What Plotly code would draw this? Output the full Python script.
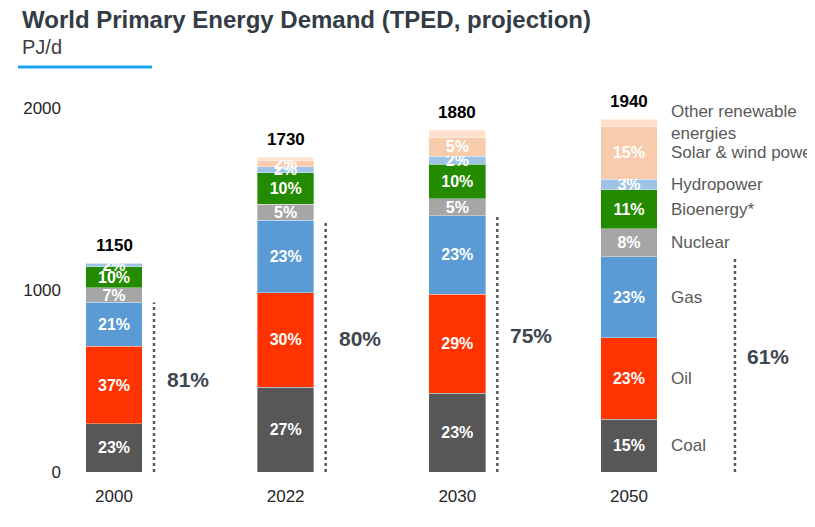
import plotly.graph_objects as go

# ---------------- data (PJ/d) ----------------
years = ["2000", "2022", "2030", "2050"]
series_names = ["Coal", "Oil", "Gas", "Nuclear", "Bioenergy*", "Hydropower",
                "Solar & wind power", "Other renewable energies"]
coal = [265, 467, 432, 291]
oil = [425, 519, 545, 446]
gas = [242, 398, 432, 446]
nuclear = [80, 87, 94, 155]
bioenergy = [115, 173, 188, 213]
hydropower = [20, 35, 45, 58]
solar_wind = [2, 35, 103, 291]
other_renew = [1, 16, 41, 40]
legend_labels = ["Coal", "Oil", "Gas", "Nuclear", "Bioenergy*", "Hydropower",
                 "Solar & wind power", "Other renewable<br>energies"]
y_ticks = [0, 1000, 2000]

series_values = [coal, oil, gas, nuclear, bioenergy, hydropower, solar_wind, other_renew]
colors = ["#575757", "#ff3300", "#5b9bd5", "#a6a6a6", "#248a00", "#9dc3e6",
          "#f8cbad", "#fde1cc"]

totals = [sum(s[i] for s in series_values) for i in range(len(years))]
fossil = [coal[i] + oil[i] + gas[i] for i in range(len(years))]

FONT = "Liberation Sans, Arial, sans-serif"

# plot area geometry (figure pixels; page adds an 8px body margin)
W, H = 807, 519
L, R, T, B = 54, 70, 82, 55
PW, PH = W - L - R, H - T - B


def px(xr):  # reference-x pixel -> paper x
    return (xr - 62) / PW


def py(yr):  # reference-y pixel -> paper y
    return (472 - yr) / PH


fig = go.Figure()
for name, vals, col in zip(series_names, series_values, colors):
    texts = []
    for i, v in enumerate(vals):
        pct = v / totals[i] * 100
        if name != "Other renewable energies" and pct >= 1.5:
            texts.append(f"{round(pct)}%")
        else:
            texts.append("")
    fig.add_trace(go.Bar(
        x=years, y=vals, name=name, marker_color=col,
        marker_line=dict(color="rgba(255,255,255,0.6)", width=0.6),
        text=texts, textposition="inside", insidetextanchor="middle",
        constraintext="none", textangle=0,
        textfont=dict(color="white", size=16, family=FONT, weight="bold"),
        width=0.33, hoverinfo="skip",
    ))

annotations = []
shapes = []
# totals above bars
for i in range(len(years)):
    annotations.append(dict(
        x=i, y=totals[i], text=f"<b>{totals[i]}</b>", showarrow=False,
        yanchor="bottom", yshift=6, font=dict(size=17, color="#000000", family=FONT)))

# fossil share dotted lines + labels
for i in range(len(years)):
    line_off = 106 if i == len(years) - 1 else 40
    lab_off = 139 if i == len(years) - 1 else 74
    shapes.append(dict(
        type="line", xref="x", xsizemode="pixel", xanchor=i, x0=line_off, x1=line_off,
        yref="y", y0=0, y1=fossil[i],
        line=dict(color="#595959", width=2.5, dash="dot")))
    annotations.append(dict(
        x=i, y=fossil[i] / 2, xshift=lab_off, yshift=8, showarrow=False,
        text=f"<b>{round(fossil[i] / totals[i] * 100)}%</b>",
        font=dict(size=21, color="#3d4650", family=FONT)))

# legend labels beside last bar
last = len(years) - 1
cum = 0
for lab, vals in zip(legend_labels, series_values):
    center = cum + vals[last] / 2
    cum += vals[last]
    annotations.append(dict(
        x=last, y=center, xshift=40, xanchor="left", yanchor="middle", showarrow=False,
        text=lab, align="left", font=dict(size=17, color="#595959", family=FONT)))

# title, subtitle, underline
annotations.append(dict(
    xref="paper", yref="paper", x=px(20), y=py(20),
    xanchor="left", yanchor="middle", showarrow=False,
    text="<b>World Primary Energy Demand (TPED, projection)</b>",
    font=dict(size=24, color="#333c44", family=FONT)))
annotations.append(dict(
    xref="paper", yref="paper", x=px(20), y=py(47),
    xanchor="left", yanchor="middle", showarrow=False,
    text="PJ/d", font=dict(size=20, color="#404040", family=FONT)))
shapes.append(dict(
    type="line", xref="paper", yref="paper",
    x0=px(18), x1=px(152), y0=py(67), y1=py(67),
    line=dict(color="#1aa7ec", width=3)))

fig.update_layout(
    barmode="stack",
    width=W, height=H,
    margin=dict(l=L, r=R, t=T, b=B),
    paper_bgcolor="white", plot_bgcolor="white",
    showlegend=False,
    font=dict(family=FONT, size=17, color="#262626"),
    annotations=annotations, shapes=shapes,
    xaxis=dict(type="category", range=[-0.303, 3.676], showgrid=False, zeroline=False,
               showline=False, ticks="outside", ticklen=9, tickcolor="rgba(0,0,0,0)",
               tickfont=dict(size=17, color="#262626", family=FONT)),
    yaxis=dict(range=[0, 2100], tickvals=y_ticks, showgrid=False, zeroline=False,
               showline=False, tickfont=dict(size=17, color="#262626", family=FONT)),
)

fig.write_html("out.html")
